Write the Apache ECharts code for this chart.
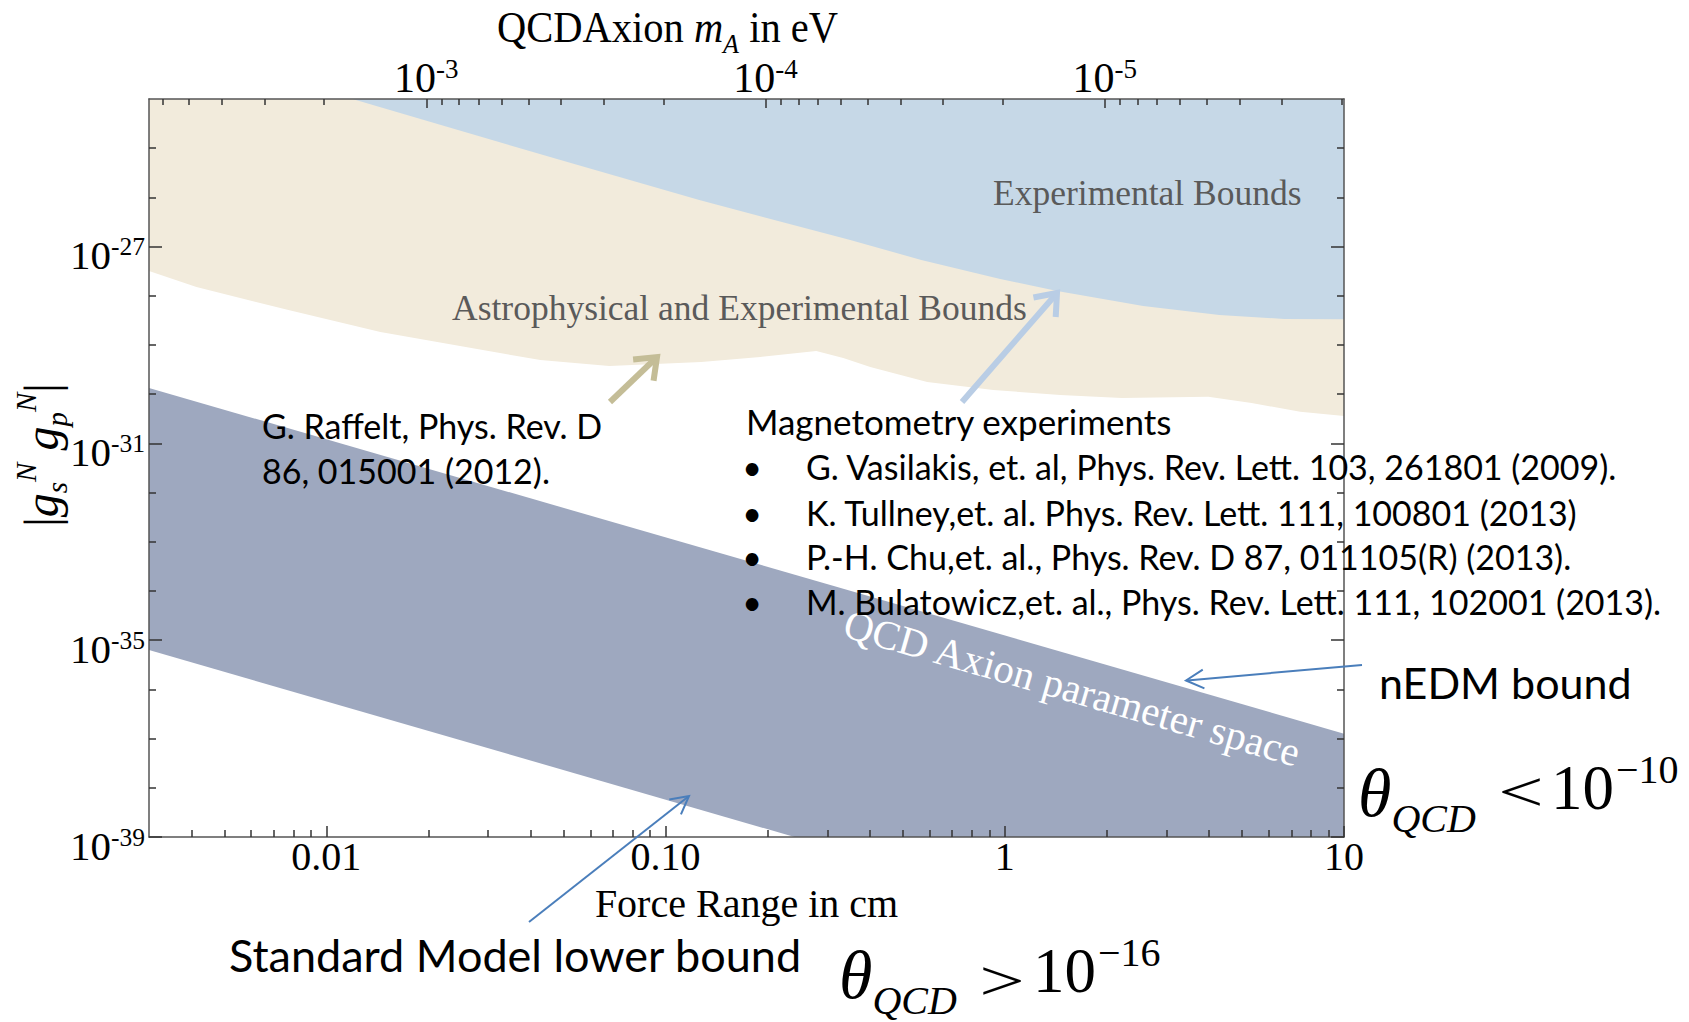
<!DOCTYPE html>
<html><head><meta charset="utf-8">
<script src="https://cdn.jsdelivr.net/npm/echarts@6/dist/echarts.min.js"></script>
<style>html,body{margin:0;padding:0;background:#fff}#c{width:1689px;height:1022px}</style>
</head><body><div id="c"></div>
<script>
// ---------------- data ----------------
const rangeMinCm = 0.003, rangeMaxCm = 10;          // force range axis (cm)
const couplingMin = 1e-39, couplingMax = 1e-24;     // |gs gp| axis

// Experimental bounds (blue): lower edge of excluded region
const expBoundX = [0.01194, 0.02228, 0.0490, 0.1257, 0.3503, 0.5673, 0.9696, 1.427, 2.559, 4.29, 6.66, 10];
const expBoundY = [1e-24, 2.83e-25, 5.75e-26, 8.85e-27, 1.36e-27, 5.35e-28, 2.19e-28, 1.25e-28, 6.21e-29, 4.07e-29, 3.38e-29, 3.33e-29];

// Astrophysical and experimental bounds (beige): lower edge
const astroBoundX = [0.003, 0.00414, 0.00773, 0.01443, 0.02677, 0.04274, 0.06826, 0.1274, 0.1902, 0.2781, 0.334, 0.4012, 0.5906, 0.9247, 1.457, 2.213, 3.98, 5.34, 7.43, 10];
const astroBoundY = [3.19e-28, 1.51e-28, 5.14e-29, 1.84e-29, 8.69e-30, 4.95e-30, 3.74e-30, 4.51e-30, 5.7e-30, 7.55e-30, 5.44e-30, 3.57e-30, 1.77e-30, 1.22e-30, 9.6e-31, 8.4e-31, 8.9e-31, 6.6e-31, 4.4e-31, 3.6e-31];

// QCD axion parameter space band
const axionUpperX = [0.003, 10];
const axionUpperY = [1.34e-30, 1.26e-37];      // nEDM bound
const axionLowerX = [10, 0.24, 0.003];
const axionLowerY = [1e-39, 1e-39, 6.33e-36];  // Standard Model lower bound

// ticks and tick labels
const xMajorTicks = [0.01, 0.1, 1, 10];
const xTickLabels = ['0.01', '0.10', '1', '10'];
const xMinorTicks = [0.004,0.005,0.006,0.007,0.008,0.009,0.02,0.03,0.04,0.05,0.06,0.07,0.08,0.09,0.2,0.3,0.4,0.5,0.6,0.7,0.8,0.9,2,3,4,5,6,7,8,9];
const hbarC = 1.97e-5; // eV*cm, converts axion mass to force range
const massMajorEv = [1e-3, 1e-4, 1e-5];
const massTickSup = ['-3', '-4', '-5'];
const massMinorEv = [6e-3,5e-3,4e-3,3e-3,2e-3,9e-4,8e-4,7e-4,6e-4,5e-4,4e-4,3e-4,2e-4,9e-5,8e-5,7e-5,6e-5,5e-5,4e-5,3e-5,2e-5,9e-6,8e-6,7e-6,6e-6,5e-6,4e-6,3e-6,2e-6];
const yMajorTicks = [1e-39, 1e-35, 1e-31, 1e-27];
const yTickSup = ['-39', '-35', '-31', '-27'];
const yMinorTicks = [1e-38,1e-37,1e-36,1e-34,1e-33,1e-32,1e-30,1e-29,1e-28,1e-26,1e-25];

// ---------------- chart ----------------
const SERIF = '"Liberation Serif","Times New Roman",serif';
const SANS = 'Lato,"Noto Sans",sans-serif';
const AX = '#555';

function nearest(arr, v) {
  let bi = 0, bd = Infinity;
  arr.forEach((a, i) => { const d = Math.abs(a - v); if (d < bd) { bd = d; bi = i; } });
  return bi;
}
const zip = (xs, ys) => xs.map((x, i) => [x, ys[i]]);
const lg = v => Math.log10(v);
const xMajorExp = xMajorTicks.map(lg), xMinorExp = xMinorTicks.map(lg);
const massMajorExp = massMajorEv.map(m => lg(hbarC / m)), massMinorExp = massMinorEv.map(m => lg(hbarC / m));
const yMajorExp = yMajorTicks.map(lg), yMinorExp = yMinorTicks.map(lg);

// data axes are logarithmic; tick/label axes are linear in decades over the same extent
const tickStyle = { color: '#333', width: 1.5 };
function xTickAxis(pos, vals, len, label) {
  return { type: 'value', gridIndex: 0, position: pos, min: lg(rangeMinCm), max: lg(rangeMaxCm), z: 10,
    splitLine: { show: false }, axisLine: { show: false, onZero: false },
    axisTick: { show: true, inside: true, length: len, customValues: vals, lineStyle: tickStyle },
    axisLabel: label ? Object.assign({ show: true, customValues: vals }, label) : { show: false } };
}
function yTickAxis(pos, vals, len, label) {
  return { type: 'value', gridIndex: 0, position: pos, min: lg(couplingMin), max: lg(couplingMax), z: 10,
    splitLine: { show: false }, axisLine: { show: false, onZero: false },
    axisTick: { show: true, inside: true, length: len, customValues: vals, lineStyle: tickStyle },
    axisLabel: label ? Object.assign({ show: true, customValues: vals }, label) : { show: false } };
}
const axisLine = { show: true, onZero: false, lineStyle: { color: AX, width: 1.5 } };

const supRichY = {
  b: { fontFamily: SERIF, fontSize: 41, lineHeight: 42, verticalAlign: 'bottom', color: '#000' },
  s: { fontFamily: SERIF, fontSize: 25.5, lineHeight: 25, verticalAlign: 'top', padding: [0, 0, 32, 0], color: '#000' }
};
const supRichTop = {
  b: { fontFamily: SERIF, fontSize: 42, lineHeight: 44, verticalAlign: 'bottom', color: '#000' },
  s: { fontFamily: SERIF, fontSize: 27, lineHeight: 27, verticalAlign: 'top', padding: [0, 0, 23, 0], color: '#000' }
};

function polygon(points, color, z) {
  return {
    type: 'custom', coordinateSystem: 'cartesian2d', xAxisIndex: 0, yAxisIndex: 0,
    data: points, encode: { x: 0, y: 1 }, clip: true, silent: true, z: z,
    renderItem: (params, api) => {
      if (params.dataIndex !== 0) return null;
      return { type: 'polygon', shape: { points: points.map(p => api.coord(p)) }, style: { fill: color } };
    }
  };
}
const bluePoly = zip(expBoundX, expBoundY).concat([[rangeMaxCm, couplingMax]]);
const beigePoly = zip(astroBoundX, astroBoundY).concat([[rangeMaxCm, couplingMax], [rangeMinCm, couplingMax]]);
const bandPoly = zip(axionUpperX, axionUpperY).concat(zip(axionLowerX, axionLowerY));

function arrow(x1, y1, x2, y2, color, w, head, ang) {
  const dx = x2 - x1, dy = y2 - y1, L = Math.hypot(dx, dy), bx = -dx / L, by = -dy / L;
  const a = ang * Math.PI / 180, c = Math.cos(a), s = Math.sin(a);
  const p1 = [x2 + head * (bx * c - by * s), y2 + head * (bx * s + by * c)];
  const p2 = [x2 + head * (bx * c + by * s), y2 + head * (-bx * s + by * c)];
  return [
    { type: 'line', silent: true, z: 50, shape: { x1, y1, x2: x2 + bx * w * 0.6, y2: y2 + by * w * 0.6 }, style: { stroke: color, lineWidth: w } },
    { type: 'polyline', silent: true, z: 50, shape: { points: [p1, [x2, y2], p2] }, style: { stroke: color, lineWidth: w, fill: null, lineJoin: 'miter' } }
  ];
}
function text(x, y, str, size, family, fill, align) {
  return { type: 'text', x: x, y: y, z: 60, silent: true,
    style: { text: str, fontSize: size, fontFamily: family, fill: fill, align: align || 'left', verticalAlign: 'middle' } };
}
function richText(x, y, str, rich, extra) {
  return Object.assign({ type: 'text', x: x, y: y, z: 60, silent: true,
    style: { text: str, align: 'left', verticalAlign: 'top', fill: '#000', rich: rich } }, extra || {});
}

const thetaRich = {
  t: { fontFamily: SERIF, fontStyle: 'italic', fontSize: 68, lineHeight: 90, fill: '#000' },
  q: { fontFamily: SERIF, fontStyle: 'italic', fontSize: 40, lineHeight: 40, verticalAlign: 'bottom', fill: '#000' }
};
const powRich = {
  n: { fontFamily: SERIF, fontSize: 63, lineHeight: 70, verticalAlign: 'bottom', fill: '#000' },
  e: { fontFamily: SERIF, fontSize: 40, lineHeight: 40, verticalAlign: 'top', padding: [0, 0, 40, 2], fill: '#000' }
};
const relStyle = (x, y, s) => ({ type: 'text', x: x, y: y, z: 60, silent: true, scaleX: 1.3, scaleY: 0.92,
  style: { text: s, fontSize: 62, fontFamily: SERIF, fill: '#000', align: 'center', verticalAlign: 'middle' } });

const graphics = [].concat(
  // top axis title
  [richText(497, -3, '{r|QCDAxion }{i|m}{s|A}{r| in eV}', {
     r: { fontFamily: SERIF, fontSize: 40.5, lineHeight: 56, fill: '#000' },
     i: { fontFamily: SERIF, fontStyle: 'italic', fontSize: 40.5, lineHeight: 56, fill: '#000' },
     s: { fontFamily: SERIF, fontStyle: 'italic', fontSize: 26, lineHeight: 26, verticalAlign: 'bottom', fill: '#000' } },
     { scaleY: 1.08 })],
  // y axis title
  [{ type: 'text', x: 41, y: 455, rotation: Math.PI / 2, z: 60, silent: true, style: { text: '{r||}{g|g}{s|s}{n|N}{g| g}{s|p}{n|N}{r||}', align: 'center', verticalAlign: 'middle', fill: '#000',
     rich: { r: { fontFamily: SERIF, fontSize: 48, lineHeight: 60, fill: '#000' },
             g: { fontFamily: SERIF, fontStyle: 'italic', fontSize: 48, lineHeight: 60, fill: '#000' },
             s: { fontFamily: SERIF, fontStyle: 'italic', fontSize: 29, lineHeight: 29, verticalAlign: 'bottom', fill: '#000' },
             n: { fontFamily: SERIF, fontStyle: 'italic', fontSize: 29, lineHeight: 29, verticalAlign: 'top', fill: '#000' } } } }],
  // region labels
  [text(993, 193, 'Experimental Bounds', 35.5, SERIF, '#5a5a5a')],
  [text(452, 308, 'Astrophysical and Experimental Bounds', 35.5, SERIF, '#5a5a5a')],
  [{ type: 'text', x: 1072, y: 688, rotation: -0.281, z: 60, silent: true, style: { text: 'QCD Axion parameter space', fontSize: 41, fontFamily: SERIF, fill: '#ffffff', align: 'center', verticalAlign: 'middle' } }],
  // references
  [text(262, 425, 'G. Raffelt, Phys. Rev. D', 34, SANS, '#000')],
  [text(262, 470, '86, 015001 (2012).', 34, SANS, '#000')],
  [text(746, 421, 'Magnetometry experiments', 35, SANS, '#000')],
  [466, 512, 556, 601].map(y => text(752, y, '•', 34, SANS, '#000', 'center')),
  [text(806, 466, 'G. Vasilakis, et. al, Phys. Rev. Lett. 103, 261801 (2009).', 34, SANS, '#000')],
  [text(806, 512, 'K. Tullney,et. al. Phys. Rev. Lett. 111, 100801 (2013)', 34, SANS, '#000')],
  [text(806, 556, 'P.-H. Chu,et. al., Phys. Rev. D 87, 011105(R) (2013).', 34, SANS, '#000')],
  [text(806, 601, 'M. Bulatowicz,et. al., Phys. Rev. Lett. 111, 102001 (2013).', 34, SANS, '#000')],
  [text(1379, 682, 'nEDM bound', 43, SANS, '#000')],
  [text(229, 955, 'Standard Model lower bound', 45, SANS, '#000')],
  // theta constraints
  [richText(1358, 748, '{t|θ}{q|QCD}', thetaRich)],
  [relStyle(1521, 792, '<')],
  [richText(1551, 749, '{n|10}{e|−10}', powRich)],
  [richText(839, 930, '{t|θ}{q|QCD}', thetaRich)],
  [relStyle(1002, 981, '>')],
  [richText(1033, 932, '{n|10}{e|−16}', powRich)],
  // arrows
  arrow(610, 402, 657, 357, '#c4bd97', 6, 24, 38),
  arrow(962, 402, 1057, 293, '#b9cde5', 6, 24, 38),
  arrow(1362, 665, 1186, 680.5, '#4a7ebb', 2, 20, 28),
  arrow(529, 922, 689, 796, '#4a7ebb', 2, 20, 28)
);

const chart = echarts.init(document.getElementById('c'), null, { renderer: 'svg', width: 1689, height: 1022 });
chart.setOption({
  animation: false,
  backgroundColor: '#ffffff',
  grid: { left: 149, right: 345, top: 99, bottom: 185, containLabel: false, outerBoundsMode: 'none', show: false },
  xAxis: [
    // data axis (log)
    { type: 'log', logBase: 10, gridIndex: 0, position: 'bottom', min: rangeMinCm, max: rangeMaxCm, z: 10,
      splitLine: { show: false }, minorTick: { show: false }, axisTick: { show: false }, axisLabel: { show: false }, axisLine: axisLine,
      name: 'Force Range in cm', nameLocation: 'middle', nameGap: 50,
      nameTextStyle: { fontFamily: SERIF, fontSize: 40, lineHeight: 32, color: '#000' } },
    xTickAxis('bottom', xMajorExp, 11, { margin: 4.5, color: '#000', fontFamily: SERIF, fontSize: 40, lineHeight: 30,
      formatter: v => xTickLabels[nearest(xMajorExp, v)] }),
    xTickAxis('bottom', xMinorExp, 7),
    Object.assign(xTickAxis('top', massMajorExp, 9, { margin: 0, rich: supRichTop,
      formatter: v => '{b|10}{s|' + massTickSup[nearest(massMajorExp, v)] + '}' }), { axisLine: axisLine }),
    xTickAxis('top', massMinorExp, 6)
  ],
  yAxis: [
    { type: 'log', logBase: 10, gridIndex: 0, position: 'left', min: couplingMin, max: couplingMax, z: 10,
      splitLine: { show: false }, minorTick: { show: false }, axisTick: { show: false }, axisLabel: { show: false }, axisLine: axisLine },
    yTickAxis('left', yMajorExp, 13, { margin: 4, rich: supRichY, padding: [16, 0, 0, 0],
      formatter: v => '{b|10}{s|' + yTickSup[nearest(yMajorExp, v)] + '}' }),
    yTickAxis('left', yMinorExp, 7),
    Object.assign(yTickAxis('right', yMajorExp, 13), { axisLine: axisLine }),
    yTickAxis('right', yMinorExp, 7)
  ],
  series: [
    polygon(beigePoly, '#f2ebdc', 1),
    polygon(bluePoly, '#c6d8e7', 2),
    polygon(bandPoly, '#9ea8bf', 3)
  ],
  graphic: graphics
});
</script></body></html>
